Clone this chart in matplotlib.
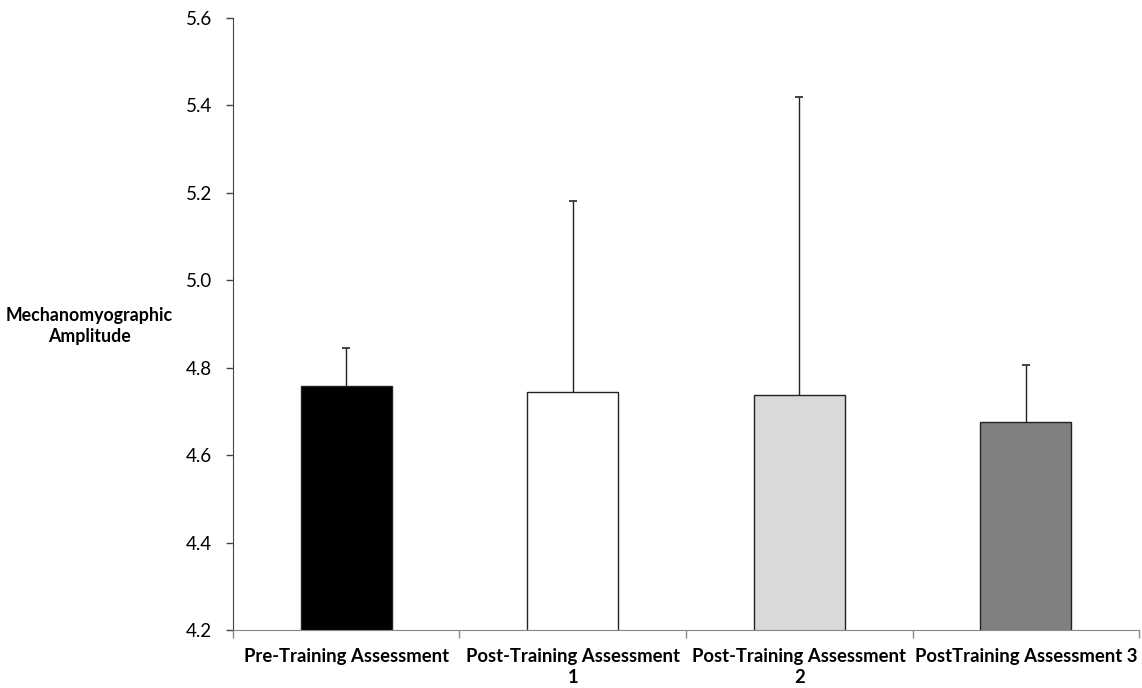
import matplotlib
matplotlib.use("Agg")
import matplotlib.pyplot as plt
import numpy as np

# Mean MMG amplitude for each assessment, with upper SD bars
categories = ["Pre-Training Assessment", "Post-Training Assessment\n1",
              "Post-Training Assessment\n2", "PostTraining Assessment 3"]
means = [4.758, 4.745, 4.738, 4.676]
upper_sd = [0.086, 0.436, 0.682, 0.130]
bar_colors = ["#000000", "#ffffff", "#d9d9d9", "#808080"]
y_ticks = [4.2, 4.4, 4.6, 4.8, 5.0, 5.2, 5.4, 5.6]

plt.rcParams["font.family"] = ["Lato", "DejaVu Sans"]

fig = plt.figure(figsize=(11.42, 6.88), dpi=100)
ax = fig.add_axes([0.204, 0.0843, 0.7934, 0.8897])

x = np.arange(len(categories))
ax.bar(x, means, width=0.40, color=bar_colors, edgecolor="#222222",
       linewidth=1.0, zorder=2)
_, caps, _ = ax.errorbar(x, means, yerr=[np.zeros(len(means)), upper_sd],
                         fmt="none", ecolor="#222222", elinewidth=1.0,
                         capsize=3, capthick=1.2, zorder=3)
# only the upper whisker has a cap
caps[0].set_visible(False)

ax.set_xlim(-0.5, len(categories) - 0.5)
ax.set_ylim(4.2, 5.6)
ax.set_yticks(y_ticks)
ax.set_yticklabels([f"{t:.1f}" for t in y_ticks], fontsize=13.5)
ax.tick_params(axis="y", direction="out", length=5, width=1,
               color="#444444", pad=10)

# category labels between boundary ticks
ax.set_xticks(np.arange(-0.5, len(categories)), minor=False)
ax.set_xticklabels([""] * (len(categories) + 1))
ax.tick_params(axis="x", direction="out", length=6, width=1,
               color="#888888")
for xi, label in zip(x, categories):
    ax.text(xi, -0.03, label, transform=ax.get_xaxis_transform(),
            ha="center", va="top", fontsize=13.3, fontweight="bold",
            linespacing=1.25)

for side in ["top", "right"]:
    ax.spines[side].set_visible(False)
ax.spines["left"].set_color("#444444")
ax.spines["bottom"].set_color("#888888")

fig.text(0.078, 0.526, "Mechanomyographic\nAmplitude", ha="center",
         va="center", fontsize=12.8, fontweight="bold", linespacing=1.3)

fig.savefig("out.png", dpi=100)
